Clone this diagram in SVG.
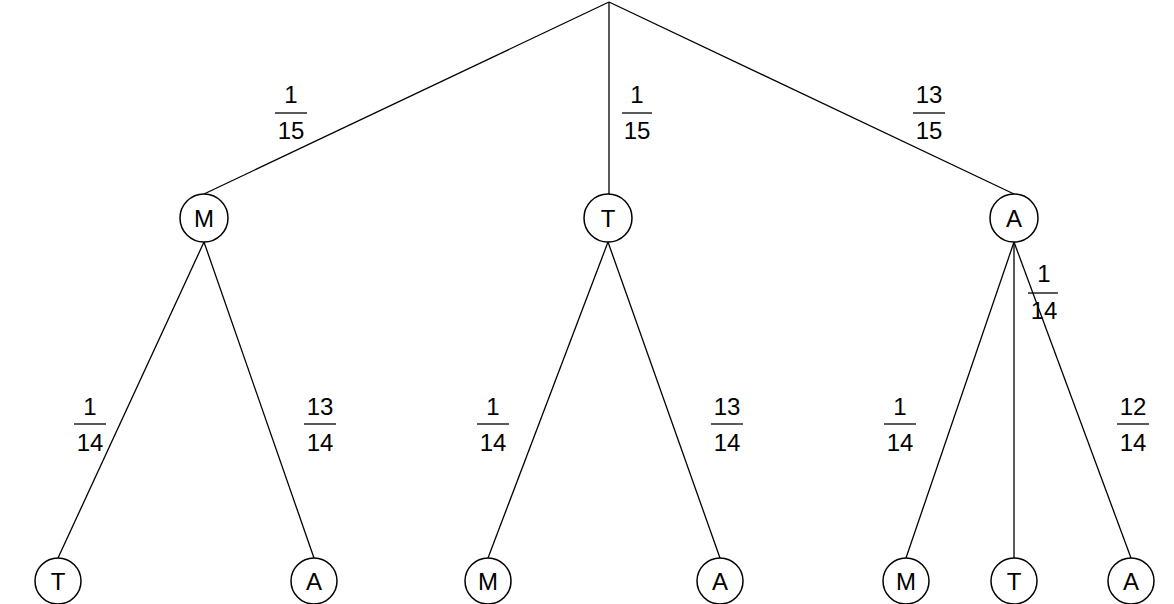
<svg xmlns="http://www.w3.org/2000/svg" width="1174" height="604" viewBox="0 0 1174 604">
<style>
circle{fill:#fff;stroke:#000;stroke-width:1.5}
line{stroke:#000;stroke-width:1.3}
text{font-family:"Liberation Sans",Arial,sans-serif;font-size:24px;text-anchor:middle}
</style>
<rect width="1174" height="604" fill="#fff"/>
<g id="connectors">
<line x1="609" y1="2" x2="204" y2="194"/>
<line x1="609" y1="2" x2="609" y2="194"/>
<line x1="609" y1="2" x2="1014" y2="194"/>
<line x1="204" y1="242" x2="58" y2="558"/>
<line x1="204" y1="242" x2="314" y2="558"/>
<line x1="608" y1="242" x2="488" y2="558"/>
<line x1="608" y1="242" x2="720" y2="558"/>
<line x1="1014" y1="242" x2="906" y2="558"/>
<line x1="1014" y1="242" x2="1014" y2="558"/>
<line x1="1014" y1="242" x2="1131" y2="558"/>
</g>
<g id="labels">
<text x="291" y="103">1</text><line x1="275" y1="113" x2="307" y2="113"/><text x="291" y="139">15</text>
<text x="637" y="103">1</text><line x1="622" y1="113" x2="652" y2="113"/><text x="637" y="139">15</text>
<text x="929" y="103">13</text><line x1="913" y1="113" x2="945" y2="113"/><text x="929" y="139">15</text>
<text x="90" y="415">1</text><line x1="74" y1="424" x2="106" y2="424"/><text x="90" y="451">14</text>
<text x="320" y="415">13</text><line x1="304" y1="424" x2="336" y2="424"/><text x="320" y="451">14</text>
<text x="493" y="415">1</text><line x1="477" y1="424" x2="509" y2="424"/><text x="493" y="451">14</text>
<text x="727" y="415">13</text><line x1="711" y1="424" x2="743" y2="424"/><text x="727" y="451">14</text>
<text x="900" y="415">1</text><line x1="884" y1="424" x2="916" y2="424"/><text x="900" y="451">14</text>
<text x="1133" y="415">12</text><line x1="1117" y1="424" x2="1149" y2="424"/><text x="1133" y="451">14</text>
<text x="1044" y="282">1</text><line x1="1028" y1="293" x2="1058" y2="293"/><text x="1044" y="319">14</text>
</g>
<g id="n1"><circle cx="204" cy="218" r="24"/><text x="204" y="227">M</text></g>
<g id="n2"><circle cx="608" cy="218" r="24"/><text x="608" y="227">T</text></g>
<g id="n3"><circle cx="1014" cy="218" r="24"/><text x="1014" y="227">A</text></g>
<g id="n4"><circle cx="58" cy="581" r="23"/><text x="58" y="590">T</text></g>
<g id="n5"><circle cx="314" cy="581" r="23"/><text x="314" y="590">A</text></g>
<g id="n6"><circle cx="488" cy="581" r="23"/><text x="488" y="590">M</text></g>
<g id="n7"><circle cx="720" cy="581" r="23"/><text x="720" y="590">A</text></g>
<g id="n8"><circle cx="906" cy="581" r="23"/><text x="906" y="590">M</text></g>
<g id="n9"><circle cx="1014" cy="581" r="23"/><text x="1014" y="590">T</text></g>
<g id="n10"><circle cx="1131" cy="581" r="23"/><text x="1131" y="590">A</text></g>
</svg>
